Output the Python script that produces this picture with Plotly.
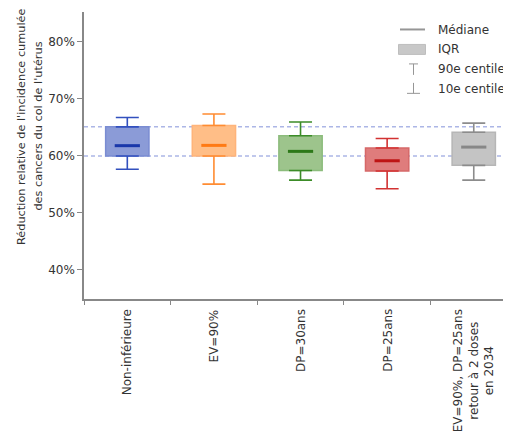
import plotly.graph_objects as go

categories = ["Non-inférieure", "EV=90%", "DP=30ans", "DP=25ans",
              "EV=90%, DP=25ans<br>retour à 2 doses<br>en 2034"]
p10 = [57.6, 55.0, 55.7, 54.2, 55.7]
q1 = [59.93, 59.95, 57.4, 57.3, 58.3]
median = [61.75, 61.8, 60.75, 59.1, 61.5]
q3 = [65.05, 65.3, 63.5, 61.35, 64.1]
p90 = [66.7, 67.3, 65.9, 63.0, 65.7]
y_ticks = [40, 50, 60, 70, 80]
y_tick_labels = ["40%", "50%", "60%", "70%", "80%"]
title_lines = ["Réduction relative de l'incidence cumulée",
               "des cancers du col de l'utérus"]
legend_labels = ["Médiane", "IQR", "90e centile", "10e centile"]

fill_colors = ["rgb(139,155,215)", "rgb(255,190,135)", "rgb(157,196,140)",
               "rgb(223,124,124)", "rgb(196,196,196)"]
outline_colors = ["rgb(122,140,210)", "rgb(255,180,122)", "rgb(140,188,124)",
                  "rgb(214,104,104)", "rgb(182,182,182)"]
whisker_colors = ["rgb(50,80,190)", "rgb(255,140,50)", "rgb(60,140,40)",
                  "rgb(210,50,50)", "rgb(140,140,140)"]
median_colors = ["rgb(25,55,170)", "rgb(255,122,20)", "rgb(45,120,25)",
                 "rgb(190,20,20)", "rgb(135,135,135)"]

OFF = 8  # page body margin
PAGE_W, PAGE_H = 511, 438
W, H = PAGE_W - OFF, PAGE_H - OFF
# plot area in page pixels: x 84..511, y 12..299.5
ML, MR, MT, MB = 84 - OFF, 0, 12 - OFF, PAGE_H - 299.5
PW, PH = W - ML - MR, H - MT - MB


def px(x):  # page pixel -> paper
    return (x - OFF - ML) / PW


def py(y):
    return (PAGE_H - MB - y) / PH


fig = go.Figure()

fig.add_trace(go.Bar(
    x=categories,
    y=[b - a for a, b in zip(q1, q3)],
    base=q1,
    width=0.5,
    marker=dict(color=fill_colors, line=dict(color=outline_colors, width=1.5)),
    hoverinfo="skip",
    showlegend=False,
))

for i, c in enumerate(categories):
    fig.add_trace(go.Scatter(
        x=[c, c],
        y=[q3[i], q1[i]],
        mode="markers",
        marker=dict(size=1, opacity=0),
        error_y=dict(type="data", symmetric=False,
                     array=[p90[i] - q3[i], 0],
                     arrayminus=[0, q1[i] - p10[i]],
                     color=whisker_colors[i], thickness=1.6, width=11.5),
        hoverinfo="skip",
        showlegend=False,
    ))

fig.add_trace(go.Scatter(
    x=categories,
    y=median,
    mode="markers",
    marker=dict(symbol="line-ew", size=18,
                line=dict(color=median_colors, width=3)),
    hoverinfo="skip",
    showlegend=False,
))

shapes = []
# reference dashed lines at the first scenario's IQR
for v in (q1[0], q3[0]):
    shapes.append(dict(type="line", xref="paper", yref="y", x0=0, x1=1, y0=v, y1=v,
                       line=dict(color="rgb(172,182,230)", width=1.5, dash="4px,3px"),
                       layer="below"))

# legend
lg = "rgb(150,150,150)"
shapes.append(dict(type="line", xref="paper", yref="paper", x0=px(400), x1=px(425),
                   y0=py(29.5), y1=py(29.5), line=dict(color=lg, width=2)))
shapes.append(dict(type="rect", xref="paper", yref="paper", x0=px(398.5), x1=px(425.5),
                   y0=py(44.5), y1=py(54.5), fillcolor="rgb(200,200,200)",
                   line=dict(color="rgb(190,190,190)", width=1)))
shapes.append(dict(type="line", xref="paper", yref="paper", x0=px(409), x1=px(418),
                   y0=py(64), y1=py(64), line=dict(color=lg, width=1)))
shapes.append(dict(type="line", xref="paper", yref="paper", x0=px(413.5), x1=px(413.5),
                   y0=py(64), y1=py(75), line=dict(color=lg, width=1)))
shapes.append(dict(type="line", xref="paper", yref="paper", x0=px(407), x1=px(420),
                   y0=py(93.5), y1=py(93.5), line=dict(color=lg, width=1)))
shapes.append(dict(type="line", xref="paper", yref="paper", x0=px(413.5), x1=px(413.5),
                   y0=py(83), y1=py(93.5), line=dict(color=lg, width=1)))

annotations = []
for txt, yy in zip(legend_labels, [30, 49.3, 69.3, 88.7]):
    annotations.append(dict(text=txt, xref="paper", yref="paper", x=px(436), y=py(yy),
                            xanchor="left", yanchor="middle", showarrow=False,
                            font=dict(family="DejaVu Sans", size=12, color="#333333")))

for txt, xx in zip(title_lines, [21.7, 38.3]):
    annotations.append(dict(
        text=txt, xref="paper", yref="paper", x=px(xx), y=py(126.5), textangle=-90,
        xanchor="center", yanchor="middle", showarrow=False, align="center",
        font=dict(family="DejaVu Sans", size=11.3, color="#333333")))

# category labels, rotated, centred lines
for c in categories:
    annotations.append(dict(
        text=c, xref="x", yref="paper", x=c, y=0, yshift=-8, textangle=-90,
        xanchor="center", yanchor="top", showarrow=False, align="center",
        font=dict(family="DejaVu Sans", size=12, color="#333333")))

fig.update_layout(
    width=W, height=H,
    margin=dict(l=ML, r=MR, t=MT, b=MB, pad=0),
    paper_bgcolor="white", plot_bgcolor="white",
    font=dict(family="DejaVu Sans", size=12, color="#333333"),
    shapes=shapes,
    annotations=annotations,
    showlegend=False,
    xaxis=dict(
        type="category", range=[-0.5, 4.43], tickson="boundaries",
        ticks="outside", ticklen=4, tickcolor="#888888", showgrid=False,
        showticklabels=False,
        showline=True, linecolor="#888888", linewidth=1.5, zeroline=False,
    ),
    yaxis=dict(
        range=[34.85, 85.2], tickvals=y_ticks, ticktext=y_tick_labels,
        ticks="outside", ticklen=5, tickcolor="#888888", showgrid=False,
        showline=True, linecolor="#888888", linewidth=1.5, zeroline=False,
        tickfont=dict(family="DejaVu Sans", size=12, color="#333333"),
    ),
)

fig.write_html("out.html")
